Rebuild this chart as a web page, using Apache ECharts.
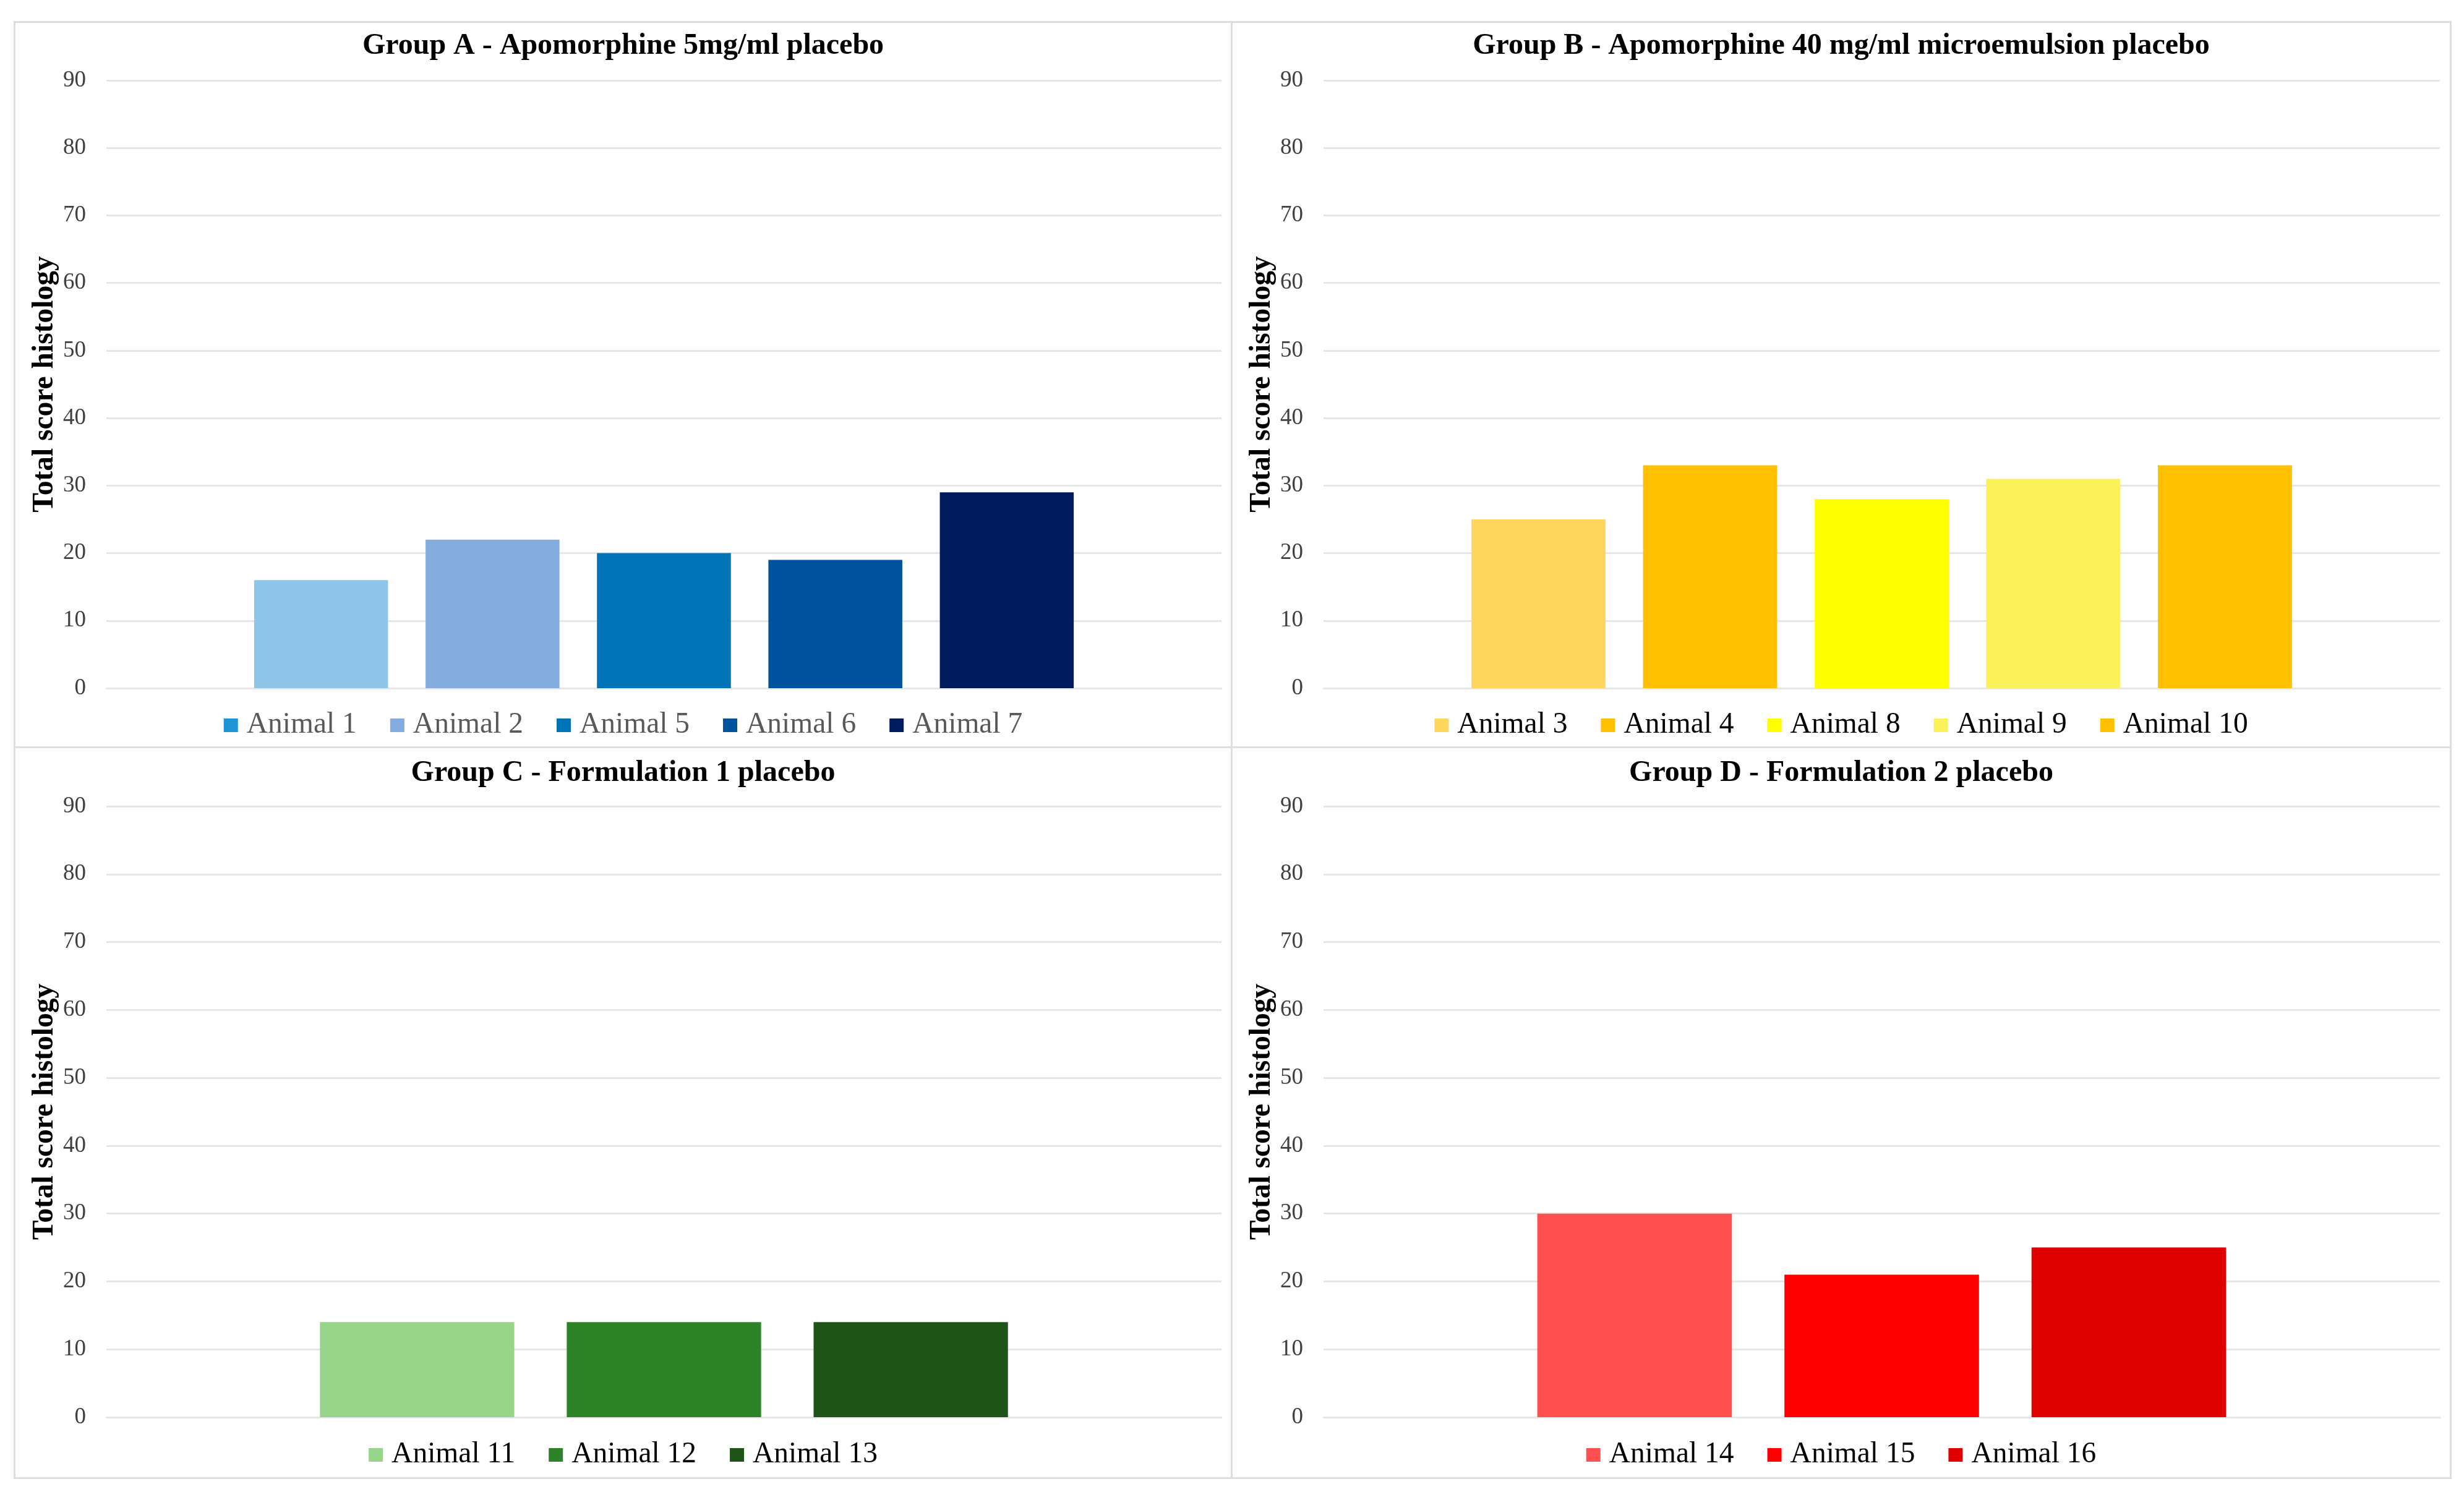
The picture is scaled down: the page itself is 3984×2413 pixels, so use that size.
<!DOCTYPE html>
<html>
<head>
<meta charset="utf-8">
<script src="https://cdn.jsdelivr.net/npm/echarts@6/dist/echarts.min.js"></script>
<style>
  html, body { margin: 0; padding: 0; background: #ffffff; }
  body { width: 3984px; height: 2413px; position: relative; overflow: hidden; }
  .frame { position: absolute; box-sizing: border-box; border: 3px solid #DEDEDE; }
  .chart { position: absolute; }
</style>
</head>
<body>
<div class="frame" style="left:22px;top:34px;width:1971px;height:1176px;"></div>
<div class="frame" style="left:1990px;top:34px;width:1974px;height:1176px;"></div>
<div class="frame" style="left:22px;top:1207px;width:1971px;height:1185px;"></div>
<div class="frame" style="left:1990px;top:1207px;width:1974px;height:1185px;"></div>
<div id="cA" class="chart" style="left:22px;top:34px;width:1971px;height:1176px;"></div>
<div id="cB" class="chart" style="left:1990px;top:34px;width:1974px;height:1176px;"></div>
<div id="cC" class="chart" style="left:22px;top:1207px;width:1971px;height:1185px;"></div>
<div id="cD" class="chart" style="left:1990px;top:1207px;width:1974px;height:1185px;"></div>
<script>
// ---- Data ----
const yAxisTitle = 'Total score histology';
const yMin = 0, yMax = 90, yInterval = 10;

const titleA = 'Group A - Apomorphine 5mg/ml placebo';
const animalsA = ['Animal 1', 'Animal 2', 'Animal 5', 'Animal 6', 'Animal 7'];
const valuesA = [16, 22, 20, 19, 29];
const colorsA = ['#8EC5E8', '#84ACDF', '#0072B6', '#00539C', '#001A5E'];
const legendColorsA = ['#1E93D6', '#84ACDF', '#0072B6', '#00539C', '#001A5E'];

const titleB = 'Group B - Apomorphine 40 mg/ml microemulsion placebo';
const animalsB = ['Animal 3', 'Animal 4', 'Animal 8', 'Animal 9', 'Animal 10'];
const valuesB = [25, 33, 28, 31, 33];
const colorsB = ['#FFD75E', '#FFC000', '#FFFF00', '#FBF158', '#FFC000'];

const titleC = 'Group C - Formulation 1 placebo';
const animalsC = ['Animal 11', 'Animal 12', 'Animal 13'];
const valuesC = [14, 14, 14];
const colorsC = ['#98D48A', '#2E8329', '#1F5418'];

const titleD = 'Group D - Formulation 2 placebo';
const animalsD = ['Animal 14', 'Animal 15', 'Animal 16'];
const valuesD = [30, 21, 25];
const colorsD = ['#FF5050', '#FF0000', '#E00000'];

// ---- Chart builder ----
const FONT = "'Liberation Serif', 'Times New Roman', serif";

function buildOption(p) {
  return {
    animation: false,
    backgroundColor: 'transparent',
    title: {
      text: p.title,
      left: 'center',
      top: p.titleTop,
      padding: 0,
      textStyle: { fontFamily: FONT, fontSize: 48, fontWeight: 'bold', color: '#000000', lineHeight: 50 }
    },
    legend: {
      data: p.names.map((n, i) => ({ name: n, itemStyle: { color: (p.legendColors || p.colors)[i] } })),
      left: 'center',
      top: p.legendTop,
      padding: 0,
      itemWidth: 23,
      itemHeight: 22,
      itemGap: 54,
      icon: 'rect',
      textStyle: { fontFamily: FONT, fontSize: 47.5, color: p.legendText, lineHeight: 48, padding: [0, 0, 0, 9] }
    },
    grid: { left: 150, right: p.gridRight, top: p.gridTop, bottom: p.gridBottom, containLabel: false },
    xAxis: {
      type: 'category',
      data: [''],
      axisLine: { show: true, lineStyle: { color: '#E6E6E6', width: 3 } },
      axisTick: { show: false },
      axisLabel: { show: false },
      splitLine: { show: false }
    },
    yAxis: {
      type: 'value',
      min: yMin,
      max: yMax,
      interval: yInterval,
      name: yAxisTitle,
      nameLocation: 'middle',
      nameGap: 76,
      nameMoveOverlap: false,
      nameTextStyle: { fontFamily: FONT, fontSize: 47.5, fontWeight: 'bold', color: '#000000', lineHeight: 47 },
      axisLine: { show: false },
      axisTick: { show: false },
      axisLabel: { fontFamily: FONT, fontSize: 37, color: '#404040', margin: 33 },
      splitLine: { show: true, lineStyle: { color: '#E6E6E6', width: 3 } }
    },
    series: p.names.map((n, i) => ({
      name: n,
      type: 'bar',
      data: [p.values[i]],
      itemStyle: { color: p.colors[i] },
      barGap: p.barGap,
      barCategoryGap: p.catGap
    }))
  };
}

const panels = [
  { id: 'cA', title: titleA, names: animalsA, values: valuesA, colors: colorsA, legendColors: legendColorsA,
    legendText: '#595959', titleTop: 16, legendTop: 1115, gridTop: 96, gridBottom: 97, gridRight: 18,
    barGap: '28%', catGap: '26.5%' },
  { id: 'cB', title: titleB, names: animalsB, values: valuesB, colors: colorsB,
    legendText: '#000000', titleTop: 16, legendTop: 1115, gridTop: 96, gridBottom: 97, gridRight: 19,
    barGap: '28%', catGap: '26.5%' },
  { id: 'cC', title: titleC, names: animalsC, values: valuesC, colors: colorsC,
    legendText: '#000000', titleTop: 19, legendTop: 1122, gridTop: 97, gridBottom: 100, gridRight: 18,
    barGap: '27%', catGap: '38.3%' },
  { id: 'cD', title: titleD, names: animalsD, values: valuesD, colors: colorsD,
    legendText: '#000000', titleTop: 19, legendTop: 1122, gridTop: 97, gridBottom: 100, gridRight: 19,
    barGap: '27%', catGap: '38.3%' }
];

panels.forEach(p => {
  const chart = echarts.init(document.getElementById(p.id), null, { renderer: 'canvas' });
  chart.setOption(buildOption(p));
});
</script>
</body>
</html>
